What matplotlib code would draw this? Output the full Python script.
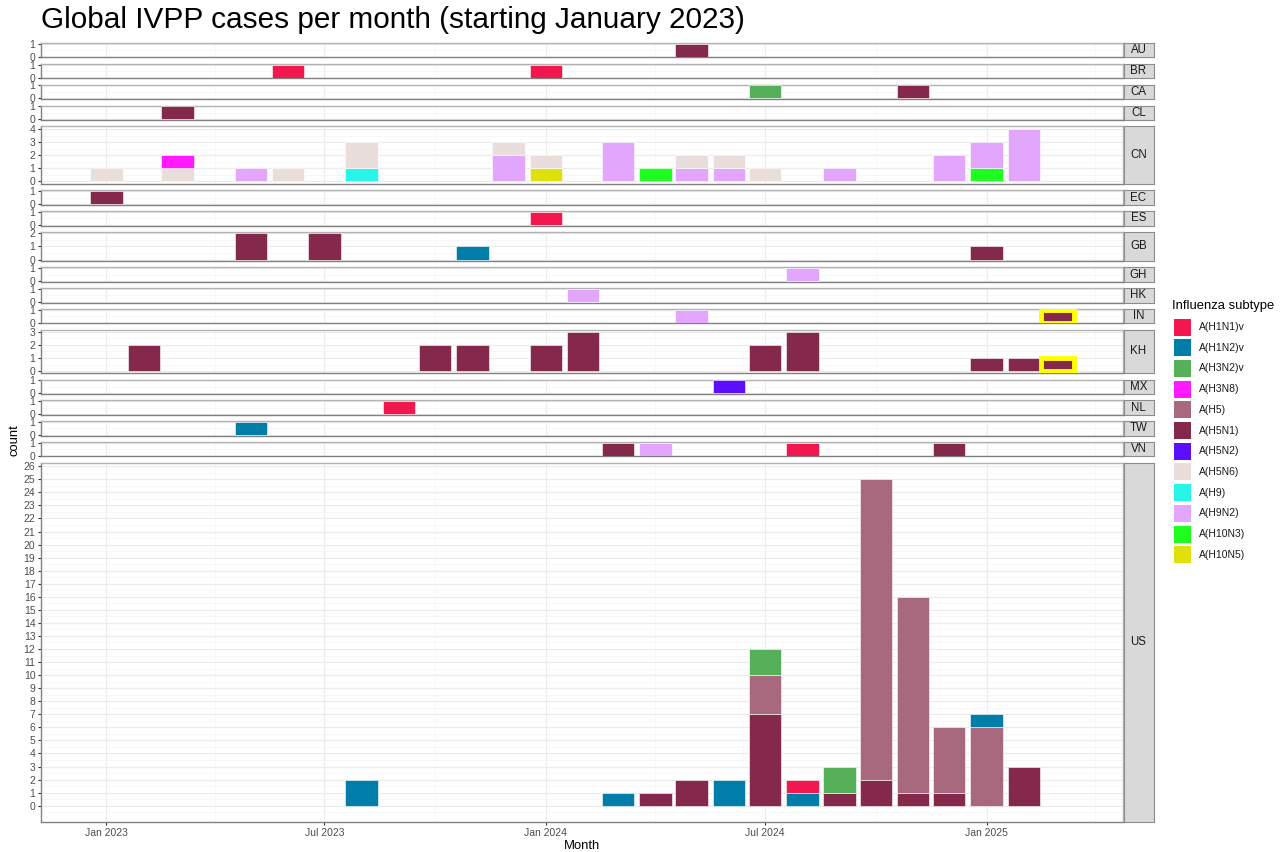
import datetime as dt

import matplotlib
matplotlib.use("Agg")
import matplotlib.pyplot as plt
import matplotlib.dates as mdates
import matplotlib.ticker as mticker
from matplotlib.patches import Rectangle
import numpy as np

plt.rcParams["font.family"] = ["Liberation Sans", "DejaVu Sans"]

subtypes = ["A(H1N1)v", "A(H1N2)v", "A(H3N2)v", "A(H3N8)", "A(H5)", "A(H5N1)",
            "A(H5N2)", "A(H5N6)", "A(H9)", "A(H9N2)", "A(H10N3)", "A(H10N5)"]
subtype_colors = ["#F2184F", "#007DA8", "#56B05A", "#FF1AFF", "#A8697F", "#85294C",
                  "#5A0FFF", "#E9DEDC", "#27F5E8", "#E2A6FC", "#1FFF1F", "#DFE20A"]

countries = ["AU", "BR", "CA", "CL", "CN", "EC", "ES", "GB", "GH", "HK", "IN",
             "KH", "MX", "NL", "TW", "VN", "US"]

# (month, subtype, count)
AU = [("2024-05", "A(H5N1)", 1)]
BR = [("2023-06", "A(H1N1)v", 1), ("2024-01", "A(H1N1)v", 1)]
CA = [("2024-07", "A(H3N2)v", 1), ("2024-11", "A(H5N1)", 1)]
CL = [("2023-03", "A(H5N1)", 1)]
CN = [("2023-01", "A(H5N6)", 1),
      ("2023-03", "A(H5N6)", 1), ("2023-03", "A(H3N8)", 1),
      ("2023-05", "A(H9N2)", 1),
      ("2023-06", "A(H5N6)", 1),
      ("2023-08", "A(H9)", 1), ("2023-08", "A(H5N6)", 2),
      ("2023-12", "A(H9N2)", 2), ("2023-12", "A(H5N6)", 1),
      ("2024-01", "A(H10N5)", 1), ("2024-01", "A(H5N6)", 1),
      ("2024-03", "A(H9N2)", 3),
      ("2024-04", "A(H10N3)", 1),
      ("2024-05", "A(H9N2)", 1), ("2024-05", "A(H5N6)", 1),
      ("2024-06", "A(H9N2)", 1), ("2024-06", "A(H5N6)", 1),
      ("2024-07", "A(H5N6)", 1),
      ("2024-09", "A(H9N2)", 1),
      ("2024-12", "A(H9N2)", 2),
      ("2025-01", "A(H10N3)", 1), ("2025-01", "A(H9N2)", 2),
      ("2025-02", "A(H9N2)", 4)]
EC = [("2023-01", "A(H5N1)", 1)]
ES = [("2024-01", "A(H1N1)v", 1)]
GB = [("2023-05", "A(H5N1)", 2), ("2023-07", "A(H5N1)", 2),
      ("2023-11", "A(H1N2)v", 1), ("2025-01", "A(H5N1)", 1)]
GH = [("2024-08", "A(H9N2)", 1)]
HK = [("2024-02", "A(H9N2)", 1)]
IN = [("2024-05", "A(H9N2)", 1), ("2025-03", "A(H5N1)", 1)]
KH = [("2023-02", "A(H5N1)", 2), ("2023-10", "A(H5N1)", 2), ("2023-11", "A(H5N1)", 2),
      ("2024-01", "A(H5N1)", 2), ("2024-02", "A(H5N1)", 3), ("2024-07", "A(H5N1)", 2),
      ("2024-08", "A(H5N1)", 3), ("2025-01", "A(H5N1)", 1), ("2025-02", "A(H5N1)", 1),
      ("2025-03", "A(H5N1)", 1)]
MX = [("2024-06", "A(H5N2)", 1)]
NL = [("2023-09", "A(H1N1)v", 1)]
TW = [("2023-05", "A(H1N2)v", 1)]
VN = [("2024-03", "A(H5N1)", 1), ("2024-04", "A(H9N2)", 1),
      ("2024-08", "A(H1N1)v", 1), ("2024-12", "A(H5N1)", 1)]
US = [("2023-08", "A(H1N2)v", 2),
      ("2024-03", "A(H1N2)v", 1),
      ("2024-04", "A(H5N1)", 1),
      ("2024-05", "A(H5N1)", 2),
      ("2024-06", "A(H1N2)v", 2),
      ("2024-07", "A(H5N1)", 7), ("2024-07", "A(H5)", 3), ("2024-07", "A(H3N2)v", 2),
      ("2024-08", "A(H1N2)v", 1), ("2024-08", "A(H1N1)v", 1),
      ("2024-09", "A(H5N1)", 1), ("2024-09", "A(H3N2)v", 2),
      ("2024-10", "A(H5N1)", 2), ("2024-10", "A(H5)", 23),
      ("2024-11", "A(H5N1)", 1), ("2024-11", "A(H5)", 15),
      ("2024-12", "A(H5N1)", 1), ("2024-12", "A(H5)", 5),
      ("2025-01", "A(H5)", 6), ("2025-01", "A(H1N2)v", 1),
      ("2025-02", "A(H5N1)", 3)]

highlight_month = "2025-03"

cases = {"AU": AU, "BR": BR, "CA": CA, "CL": CL, "CN": CN, "EC": EC, "ES": ES,
         "GB": GB, "GH": GH, "HK": HK, "IN": IN, "KH": KH, "MX": MX, "NL": NL,
         "TW": TW, "VN": VN, "US": US}
color_of = dict(zip(subtypes, subtype_colors))


def month_num(m):
    y, mo = m.split("-")
    return mdates.date2num(dt.date(int(y), int(mo), 1))


BAR_W = 27

all_x = [month_num(m) for c in countries for m, _, _ in cases[c]]
x_lo = min(all_x) - BAR_W / 2
x_hi = max(all_x) + BAR_W / 2
x_pad = 0.05 * (x_hi - x_lo)

# panel heights proportional to y range (facet space = "free")
totals = {}
for c in countries:
    per_month = {}
    for m, s, n in cases[c]:
        per_month[m] = per_month.get(m, 0) + n
    totals[c] = max(per_month.values())
ranges = [1.1 * totals[c] for c in countries]

W, H = 1285, 852
fig = plt.figure(figsize=(W / 100, H / 100), dpi=100)

left_px, right_px = 41, 1123
top_px, bottom_px = 43, 822
gap = 6.5
unit = (bottom_px - top_px - gap * (len(countries) - 1)) / sum(ranges)

y_cursor = top_px
for i, c in enumerate(countries):
    h_px = ranges[i] * unit
    ax = fig.add_axes([left_px / W, 1 - (y_cursor + h_px) / H,
                       (right_px - left_px) / W, h_px / H])
    sax = fig.add_axes([(right_px + 0.5) / W, 1 - (y_cursor + h_px) / H,
                        30 / W, h_px / H])
    y_cursor += h_px + gap

    # stack: last factor level at the bottom
    bottoms = {}
    for s in reversed(subtypes):
        for m, st, n in cases[c]:
            if st != s:
                continue
            b = bottoms.get(m, 0)
            hl = (m == highlight_month)
            ax.bar(month_num(m), n, bottom=b, width=BAR_W, color=color_of[s],
                   edgecolor="#FFFF00" if hl else "white",
                   linewidth=3.5 if hl else 0.4, zorder=3)
            bottoms[m] = b + n

    ymax = totals[c]
    lo, hi = -0.05 * ymax, 1.05 * ymax
    ax.set_ylim(lo, hi)
    ax.set_xlim(x_lo - x_pad, x_hi + x_pad)
    ax.set_yticks(np.arange(0, np.floor(hi) + 1))
    ax.yaxis.set_major_formatter(mticker.FormatStrFormatter("%d"))
    halves = np.arange(np.ceil(lo * 2) / 2, hi, 0.5)
    ax.yaxis.set_minor_locator(mticker.FixedLocator([v for v in halves if v % 1 != 0]))
    ax.xaxis.set_major_locator(mdates.MonthLocator(bymonth=[1, 7]))
    ax.xaxis.set_minor_locator(mdates.MonthLocator(bymonth=[4, 10]))
    ax.xaxis.set_major_formatter(mdates.DateFormatter("%b %Y"))

    ax.grid(which="major", color="#EBEBEB", linewidth=0.8, zorder=0)
    ax.grid(which="minor", color="#F4F4F4", linewidth=0.5, zorder=0)
    ax.set_axisbelow(True)

    ax.tick_params(axis="y", which="major", labelsize=7.5, labelcolor="#4D4D4D",
                   length=2.5, width=0.8, color="#333333", pad=1.5)
    ax.tick_params(which="minor", length=0)
    if c == countries[-1]:
        ax.tick_params(axis="x", which="major", labelsize=7.5, labelcolor="#4D4D4D",
                       length=2.5, width=0.8, color="#333333", pad=2)
    else:
        ax.tick_params(axis="x", which="major", length=0, labelbottom=False)

    for side in ["top", "right"]:
        ax.spines[side].set_color("#B3B3B3")
        ax.spines[side].set_linewidth(1.0)
    for side in ["left", "bottom"]:
        ax.spines[side].set_color("#808080")
        ax.spines[side].set_linewidth(1.0)

    sax.set_facecolor("#D9D9D9")
    sax.set_xticks([])
    sax.set_yticks([])
    for sp in sax.spines.values():
        sp.set_color("#8C8C8C")
        sp.set_linewidth(0.8)
    sax.text(0.5, 0.5, c, ha="center", va="center", fontsize=8.3,
             color="#1A1A1A", transform=sax.transAxes)

fig.text(41 / W, 1 - 20 / H, "Global IVPP cases per month (starting January 2023)",
         fontsize=21.4, ha="left", va="center", color="black")
fig.text(582 / W, 1 - 846 / H, "Month", fontsize=9.4, ha="center", va="center")
fig.text(14 / W, 1 - 440 / H, "count", fontsize=9.4, ha="center", va="center",
         rotation=90)

# legend (keys drawn as figure patches)
fig.text(1172 / W, 1 - 306 / H, "Influenza subtype", fontsize=9.4,
         ha="left", va="center")
for i, (s, col) in enumerate(zip(subtypes, subtype_colors)):
    yc = 327 + i * 20.7
    fig.add_artist(Rectangle((1174 / W, 1 - (yc + 8.5) / H), 17 / W, 17 / H,
                             facecolor=col, edgecolor="none",
                             transform=fig.transFigure))
    fig.text(1199 / W, 1 - yc / H, s, fontsize=7.5, ha="left", va="center",
             color="#1A1A1A")

fig.savefig("out.png", dpi=100)
